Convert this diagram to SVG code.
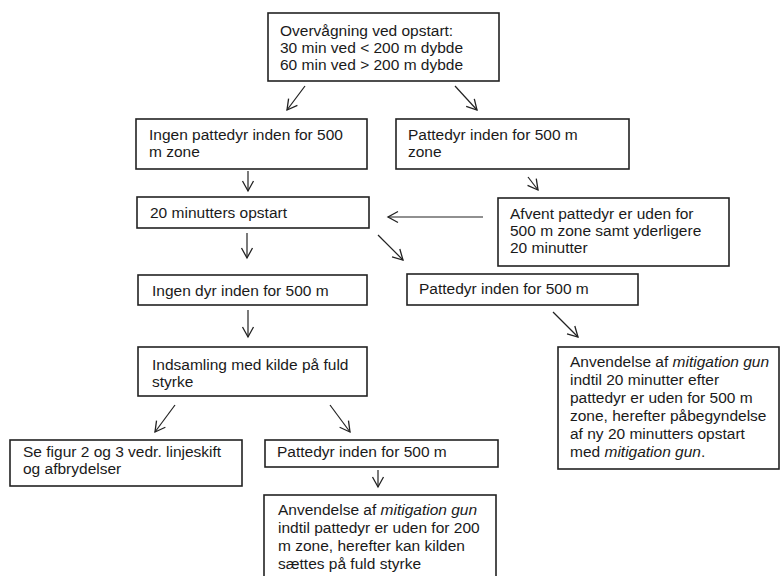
<svg xmlns="http://www.w3.org/2000/svg" width="781" height="576" viewBox="0 0 781 576">
<style>
.box{fill:#fff;stroke:#222;stroke-width:1.6}
.t{font-family:"Liberation Sans",Arial,sans-serif;font-size:15.5px;fill:#1a1a1a}
.i{font-style:italic}
.c{stroke:#222;stroke-width:1.2;fill:none}
</style>
<defs>
<marker id="ah" markerUnits="userSpaceOnUse" markerWidth="14" markerHeight="14" viewBox="-12 -7 14 14" refX="0" refY="0" orient="auto">
<path d="M-10,-5.5 L0,0 L-10,5.5" fill="none" stroke="#222" stroke-width="1.3"/>
</marker>
</defs>
<rect width="781" height="576" fill="#fff"/>
<g id="n1"><rect class="box" x="268" y="13" width="231" height="68"/>
<text class="t" x="280" y="36">Overvågning ved opstart:</text>
<text class="t" x="280" y="53">30 min ved &lt; 200 m dybde</text>
<text class="t" x="280" y="70">60 min ved &gt; 200 m dybde</text></g>
<g id="n2"><rect class="box" x="136" y="119" width="231" height="50"/>
<text class="t" x="149" y="140">Ingen pattedyr inden for 500</text>
<text class="t" x="149" y="157">m zone</text></g>
<g id="n3"><rect class="box" x="396" y="119" width="233" height="50"/>
<text class="t" x="408" y="140">Pattedyr inden for 500 m</text>
<text class="t" x="408" y="157">zone</text></g>
<g id="n4"><rect class="box" x="137" y="197" width="232" height="31"/>
<text class="t" x="150" y="218">20 minutters opstart</text></g>
<g id="n5"><rect class="box" x="498" y="198" width="231" height="68"/>
<text class="t" x="510" y="219">Afvent pattedyr er uden for</text>
<text class="t" x="510" y="236">500 m zone samt yderligere</text>
<text class="t" x="510" y="253">20 minutter</text></g>
<g id="n6"><rect class="box" x="138" y="275" width="229" height="30"/>
<text class="t" x="152" y="296">Ingen dyr inden for 500 m</text></g>
<g id="n7"><rect class="box" x="407" y="274" width="231" height="31"/>
<text class="t" x="419" y="294">Pattedyr inden for 500 m</text></g>
<g id="n8"><rect class="box" x="138" y="347" width="229" height="49"/>
<text class="t" x="152" y="370">Indsamling med kilde på fuld</text>
<text class="t" x="152" y="387">styrke</text></g>
<g id="n9"><rect class="box" x="558" y="347" width="221" height="122"/>
<text class="t" x="570" y="367">Anvendelse af <tspan class="i">mitigation gun</tspan></text>
<text class="t" x="570" y="385">indtil 20 minutter efter</text>
<text class="t" x="570" y="403">pattedyr er uden for 500 m</text>
<text class="t" x="570" y="421">zone, herefter påbegyndelse</text>
<text class="t" x="570" y="439">af ny 20 minutters opstart</text>
<text class="t" x="570" y="457">med <tspan class="i">mitigation gun</tspan>.</text></g>
<g id="n10"><rect class="box" x="10" y="440" width="232" height="46"/>
<text class="t" x="23" y="457">Se figur 2 og 3 vedr. linjeskift</text>
<text class="t" x="23" y="474">og afbrydelser</text></g>
<g id="n11"><rect class="box" x="265" y="440" width="233" height="27"/>
<text class="t" x="277" y="457">Pattedyr inden for 500 m</text></g>
<g id="n12"><rect class="box" x="264" y="495" width="232" height="90"/>
<text class="t" x="278" y="515">Anvendelse af <tspan class="i">mitigation gun</tspan></text>
<text class="t" x="278" y="533">indtil pattedyr er uden for 200</text>
<text class="t" x="278" y="551">m zone, herefter kan kilden</text>
<text class="t" x="278" y="569">sættes på fuld styrke</text></g>
<g id="connectors" class="c">
<line x1="305" y1="86" x2="287" y2="110" marker-end="url(#ah)"/>
<line x1="455" y1="86" x2="477" y2="110" marker-end="url(#ah)"/>
<line x1="248" y1="171" x2="248" y2="191" marker-end="url(#ah)"/>
<line x1="528" y1="177" x2="538" y2="190" marker-end="url(#ah)"/>
<line x1="483" y1="217" x2="388" y2="217" marker-end="url(#ah)"/>
<line x1="247" y1="233" x2="247" y2="258" marker-end="url(#ah)"/>
<line x1="378" y1="235" x2="403" y2="260" marker-end="url(#ah)"/>
<line x1="248" y1="310" x2="248" y2="337" marker-end="url(#ah)"/>
<line x1="553" y1="312" x2="578" y2="337" marker-end="url(#ah)"/>
<line x1="175" y1="405" x2="155" y2="432" marker-end="url(#ah)"/>
<line x1="330" y1="405" x2="350" y2="432" marker-end="url(#ah)"/>
<line x1="378" y1="470" x2="378" y2="487" marker-end="url(#ah)"/>
</g>
</svg>
